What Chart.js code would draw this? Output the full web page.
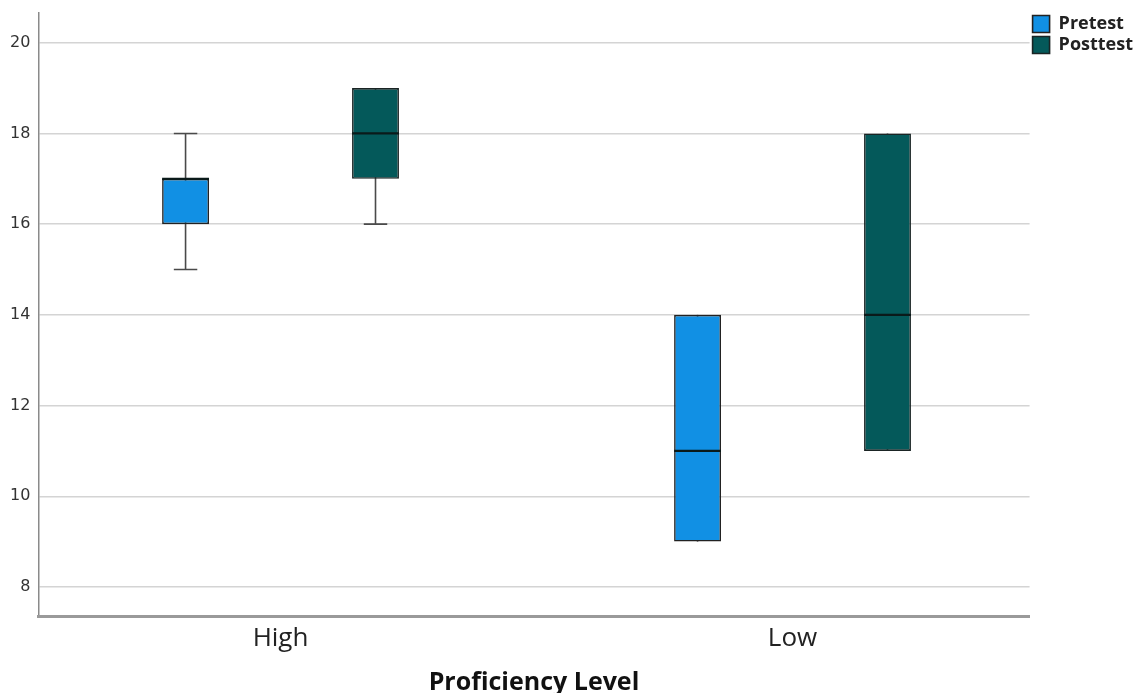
<!DOCTYPE html>
<html>
<head>
<meta charset="utf-8">
<script src="https://cdn.jsdelivr.net/npm/chart.js@4.4.1/dist/chart.umd.min.js"></script>
<style>
  html, body { margin: 0; padding: 0; background: #fff; }
  #wrap { width: 1145px; height: 693px; position: relative; }
</style>
</head>
<body>
<div id="wrap"><canvas id="boxChart"></canvas></div>
<script>
// Proficiency groups and box plot summaries
const categories = ['High', 'Low'];
const seriesNames = ['Pretest', 'Posttest'];

const pretestMin = [15, 9];
const pretestQ1 = [16, 9];
const pretestMedian = [17, 11];
const pretestQ3 = [17, 14];
const pretestMax = [18, 14];

const posttestMin = [16, 11];
const posttestQ1 = [17, 11];
const posttestMedian = [18, 14];
const posttestQ3 = [19, 18];
const posttestMax = [19, 18];

const yTicks = [8, 10, 12, 14, 16, 18, 20];

const pretestColor = '#1190e4';
const posttestColor = '#04595a';

const summaries = [
    { min: pretestMin, median: pretestMedian, max: pretestMax, q1: pretestQ1, q3: pretestQ3 },
    { min: posttestMin, median: posttestMedian, max: posttestMax, q1: posttestQ1, q3: posttestQ3 }
];

// category index on a linear x axis, so the groups can sit off-centre like the original
const boxData = (q1, q3) => categories.map((c, i) => ({ x: i, y: [q1[i], q3[i]] }));

// whiskers go behind the boxes, medians on top
const boxPlotExtras = {
    id: 'boxPlotExtras',
    beforeDatasetsDraw(chart) {
        const ctx = chart.ctx;
        const y = chart.scales.y;
        ctx.save();
        ctx.strokeStyle = '#4a4a4a';
        ctx.lineWidth = 1.6;
        summaries.forEach((s, di) => {
            chart.getDatasetMeta(di).data.forEach((bar, i) => {
                const cap = bar.width / 4;
                const yMin = y.getPixelForValue(s.min[i]);
                const yMax = y.getPixelForValue(s.max[i]);
                ctx.beginPath();
                ctx.moveTo(bar.x, yMin);
                ctx.lineTo(bar.x, yMax);
                if (s.min[i] < s.q1[i]) {
                    ctx.moveTo(bar.x - cap, yMin);
                    ctx.lineTo(bar.x + cap, yMin);
                }
                if (s.max[i] > s.q3[i]) {
                    ctx.moveTo(bar.x - cap, yMax);
                    ctx.lineTo(bar.x + cap, yMax);
                }
                ctx.stroke();
            });
        });
        ctx.restore();
    },
    afterDatasetsDraw(chart) {
        const ctx = chart.ctx;
        const y = chart.scales.y;
        ctx.save();
        ctx.strokeStyle = '#0a1a1a';
        ctx.lineWidth = 2.2;
        summaries.forEach((s, di) => {
            chart.getDatasetMeta(di).data.forEach((bar, i) => {
                const yMed = y.getPixelForValue(s.median[i]);
                ctx.beginPath();
                ctx.moveTo(bar.x - bar.width / 2, yMed);
                ctx.lineTo(bar.x + bar.width / 2, yMed);
                ctx.stroke();
            });
        });
        ctx.restore();
    }
};

document.addEventListener('DOMContentLoaded', function() {
    const ctx = document.getElementById('boxChart').getContext('2d');
    new Chart(ctx, {
        type: 'bar',
        data: {
            datasets: [
                {
                    label: seriesNames[0],
                    data: boxData(pretestQ1, pretestQ3),
                    backgroundColor: pretestColor,
                    borderColor: '#222',
                    borderWidth: 1.6,
                    borderSkipped: false,
                    categoryPercentage: 0.742,
                    barPercentage: 0.247
                },
                {
                    label: seriesNames[1],
                    data: boxData(posttestQ1, posttestQ3),
                    backgroundColor: posttestColor,
                    borderColor: '#1a2424',
                    borderWidth: 1.6,
                    borderSkipped: false,
                    categoryPercentage: 0.742,
                    barPercentage: 0.247
                }
            ]
        },
        options: {
            responsive: true,
            maintainAspectRatio: false,
            animation: false,
            layout: {
                padding: { top: 1, left: 2, right: 2, bottom: 0 }
            },
            plugins: {
                legend: {
                    position: 'right',
                    align: 'start',
                    title: {
                        display: true,
                        text: '',
                        padding: 3.5,
                        font: { size: 4, lineHeight: 1.0 }
                    },
                    labels: {
                        boxWidth: 17,
                        boxHeight: 17,
                        padding: 3,
                        color: '#222',
                        font: { family: 'Open Sans', size: 18, weight: 'bold', lineHeight: 1.0 }
                    }
                },
                tooltip: { enabled: false }
            },
            scales: {
                y: {
                    min: 7.36,
                    max: 20.66,
                    afterBuildTicks: function(axis) {
                        axis.ticks = yTicks.map(v => ({ value: v }));
                    },
                    grid: {
                        color: '#d4d4d4',
                        lineWidth: 1.5,
                        drawTicks: false
                    },
                    border: { color: '#8a8a8a', width: 1.5 },
                    ticks: {
                        padding: 8,
                        color: '#333',
                        font: { family: 'DejaVu Sans', size: 16, lineHeight: 0.6 }
                    }
                },
                x: {
                    type: 'linear',
                    offset: false,
                    min: -0.473,
                    max: 1.463,
                    afterBuildTicks: function(axis) {
                        axis.ticks = categories.map((c, i) => ({ value: i }));
                    },
                    grid: { display: false, offset: false },
                    border: { color: '#9a9a9a', width: 3 },
                    ticks: {
                        padding: 2,
                        color: '#222',
                        font: { family: 'Open Sans', size: 26, lineHeight: 1.0 },
                        callback: function(value) {
                            return categories[value];
                        }
                    },
                    title: {
                        display: true,
                        text: 'Proficiency Level',
                        color: '#111',
                        padding: { top: 19, bottom: 0 },
                        font: { family: 'Open Sans', size: 25, weight: 'bold', lineHeight: 0.8 }
                    }
                }
            }
        },
        plugins: [boxPlotExtras]
    });
});
</script>
</body>
</html>
